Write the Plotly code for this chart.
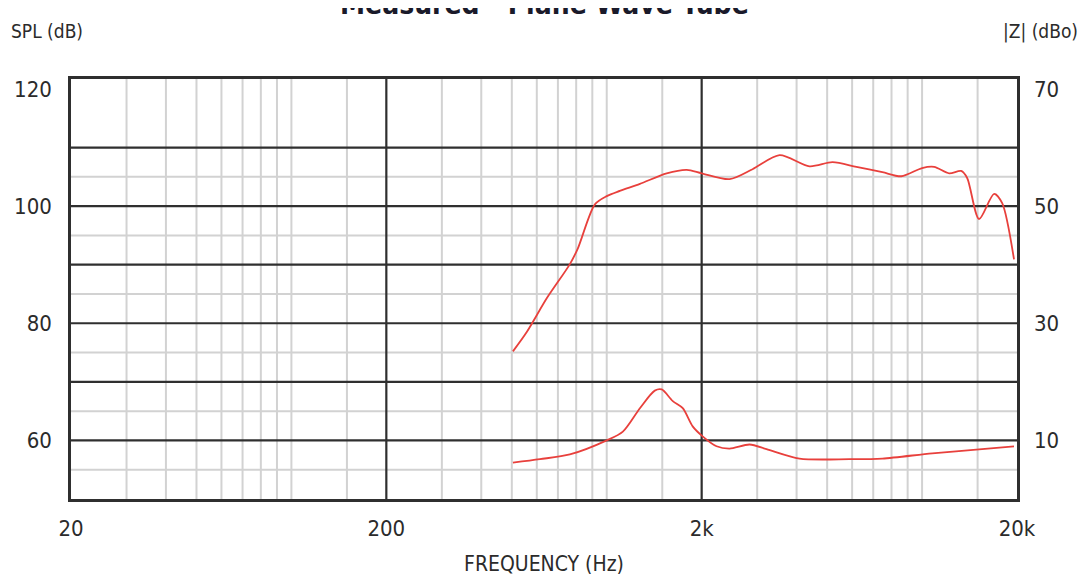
import numpy as np
import plotly.graph_objects as go

# ---- data ----
spl_freq = [504, 559, 646, 764, 810, 917, 1000, 1100, 1274, 1549, 1794, 2000, 2453, 2900,
            3532, 4396, 5200, 6192, 7482, 8592, 10000, 10920, 12190, 13300, 13900, 15160,
            16920, 17950, 19570]
spl_db = [75.2, 78.6, 84.3, 90.1, 92.8, 100.3, 101.7, 102.6, 103.8, 105.6, 106.2, 105.6, 104.6,
          106.3, 108.7, 106.8, 107.5, 106.7, 105.8, 105.1, 106.5, 106.7, 105.6, 106.0, 104.8,
          97.8, 102.1, 100.5, 90.9]

z_freq = [504, 614, 764, 1000, 1125, 1274, 1420, 1494, 1620, 1742, 1873, 2014, 2230, 2453,
          2838, 3212, 4085, 5880, 7482, 10770, 15490, 19570]
z_dbo = [6.2, 6.8, 7.6, 10.0, 11.5, 15.5, 18.5, 18.7, 16.7, 15.5, 12.4, 10.7, 9.0, 8.6,
         9.3, 8.5, 6.9, 6.8, 6.9, 7.8, 8.5, 9.0]

x_tick_vals = [20, 200, 2000, 20000]
x_tick_text = ["20", "200", "2k", "20k"]
y_left_ticks = [60, 80, 100, 120]
y_right_ticks = [10, 30, 50, 70]

x_light_grid = [30, 40, 50, 60, 70, 80, 90, 100, 150,
                300, 400, 500, 600, 700, 800, 900, 1000, 1500,
                3000, 4000, 5000, 6000, 7000, 8000, 9000, 10000, 15000]
x_heavy_grid = [200, 2000]
y_light_grid = [55, 65, 75, 85, 95, 105]
y_heavy_grid = [60, 70, 80, 90, 100, 110]

X_MIN, X_MAX = 20, 20000
Y_MIN, Y_MAX = 50, 121.7
Z_OFFSET = 50  # |Z| axis = SPL axis - 50

FONT = "DejaVu Sans Condensed, Roboto Condensed, Liberation Sans Narrow, Roboto, sans-serif"
TXT = "#2b2b2b"
RED = "#e8403c"
LIGHT = "#d2d2d2"
HEAVY = "#2f2f2f"


def vlines(xs):
    px, py = [], []
    for v in xs:
        px += [v, v, None]
        py += [Y_MIN, Y_MAX, None]
    return px, py


def hlines(ys):
    px, py = [], []
    for v in ys:
        px += [X_MIN, X_MAX, None]
        py += [v, v, None]
    return px, py


fig = go.Figure()

for (fn, vals, col, w) in [(vlines, x_light_grid, LIGHT, 2),
                            (hlines, y_light_grid, LIGHT, 2),
                            (vlines, x_heavy_grid, HEAVY, 2.2),
                            (hlines, y_heavy_grid, HEAVY, 2.2)]:
    gx, gy = fn(vals)
    fig.add_trace(go.Scatter(x=gx, y=gy, mode="lines", line=dict(color=col, width=w),
                             hoverinfo="skip", showlegend=False))

fig.add_trace(go.Scatter(x=spl_freq, y=spl_db, mode="lines",
                         line=dict(color=RED, width=1.8, shape="spline", smoothing=0.8),
                         name="SPL", showlegend=False))
fig.add_trace(go.Scatter(x=z_freq, y=z_dbo, mode="lines",
                         line=dict(color=RED, width=1.8, shape="spline", smoothing=0.8),
                         name="|Z|", yaxis="y2", showlegend=False))

fig.update_layout(
    width=1077, height=569,
    margin=dict(l=63, r=68, t=71, b=78, autoexpand=False),
    paper_bgcolor="white", plot_bgcolor="white",
    font=dict(family=FONT, color=TXT),
    xaxis=dict(type="log", range=[np.log10(X_MIN), np.log10(X_MAX)], automargin=False,
               tickvals=x_tick_vals, ticktext=x_tick_text, showgrid=False, zeroline=False,
               showline=True, linecolor=HEAVY, linewidth=2.5, mirror=True,
               ticks="", ticklabelstandoff=8, tickfont=dict(size=22, color=TXT),
               title=dict(text="FREQUENCY (Hz)", font=dict(size=21, color=TXT), standoff=17)),
    yaxis=dict(range=[Y_MIN, Y_MAX], tickvals=y_left_ticks, showgrid=False, zeroline=False,
               automargin=False,
               showline=True, linecolor=HEAVY, linewidth=2.5, mirror=True,
               ticks="", ticklabelstandoff=12, tickfont=dict(size=22, color=TXT)),
    yaxis2=dict(range=[Y_MIN - Z_OFFSET, Y_MAX - Z_OFFSET], tickvals=y_right_ticks, overlaying="y",
                side="right", showgrid=False, zeroline=False, showline=False, automargin=False,
                ticks="", ticklabelstandoff=16, tickfont=dict(size=22, color=TXT)),
    annotations=[
        dict(text="<b>Measured - Plane Wave Tube</b>", xref="paper", yref="paper", x=0.5, y=1.0,
             yshift=75, xanchor="center", yanchor="middle", showarrow=False,
             font=dict(size=28, color="#1a1a2a")),
        dict(text="SPL (dB)", xref="paper", yref="paper", x=-62 / 947, y=1.0, yshift=48,
             xanchor="left", yanchor="middle", showarrow=False, font=dict(size=19, color=TXT)),
        dict(text="|Z| (dBo)", xref="paper", yref="paper", x=1010 / 947, y=1.0, yshift=48,
             xanchor="right", yanchor="middle", showarrow=False, font=dict(size=19, color=TXT)),
    ],
)

fig.write_html("out.html")
